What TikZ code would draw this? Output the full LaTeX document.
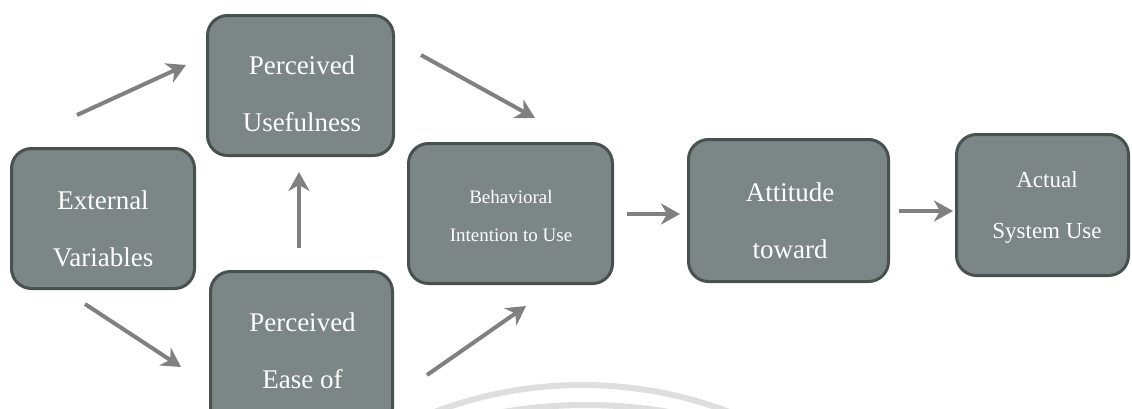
\documentclass[tikz,border=0pt]{standalone}
\usepackage{fontspec}
\setmainfont{Liberation Serif}
\usetikzlibrary{arrows.meta}
\definecolor{boxfill}{RGB}{124,134,134}
\definecolor{boxline}{RGB}{72,80,80}
\definecolor{arrowc}{RGB}{128,128,128}
\definecolor{wm}{RGB}{222,222,222}
\tikzset{
  boxst/.style={draw=boxline, fill=boxfill, line width=3pt, rounded corners=20pt, inner sep=0pt},
  txt/.style={text=white, align=center, inner sep=0pt},
  big/.style={font=\fontsize{27pt}{57pt}\selectfont},
  arr/.style={draw=arrowc, line width=4pt, -{Stealth[length=19pt,width=21pt,inset=6pt]}},
}
\begin{document}
\begin{tikzpicture}[x=1pt,y=-1pt]
\clip (0,0) rectangle (1132,408);
\fill[white] (0,0) rectangle (1132,408);
% faint watermark arcs
\draw[wm, line width=6pt] (582,799) circle (414pt);
\draw[wm, line width=6pt] (586,799) ellipse (440pt and 394pt);
% boxes
\node[boxst, minimum width=183pt, minimum height=140pt] (ext) at (103,218.5) {};
\node[boxst, minimum width=186pt, minimum height=140pt] (pu) at (300.5,85.5) {};
\node[boxst, minimum width=182pt, minimum height=157pt] (ease) at (301.5,350) {};
\node[boxst, minimum width=204pt, minimum height=140pt] (bi) at (510.5,213.5) {};
\node[boxst, minimum width=200pt, minimum height=142pt] (att) at (788.5,210.5) {};
\node[boxst, minimum width=172pt, minimum height=141pt] (act) at (1042.5,205) {};
% texts
\node[txt, big] (ext-t) at (103,228.5) {External\\Variables};
\node[txt, big] (pu-t) at (302,94) {Perceived\\Usefulness};
\node[txt, big] (ease-t) at (302.5,351) {Perceived\\Ease of};
\node[txt, font=\fontsize{19pt}{38pt}\selectfont] (bi-t) at (511,216) {Behavioral\\Intention to Use};
\node[txt, big] (att-t) at (790,221) {Attitude\\toward};
\node[txt, font=\fontsize{23pt}{51pt}\selectfont] (act-t) at (1047,207.5) {Actual\\System Use};
% arrow end points
\coordinate (a1s) at (77,115);   \coordinate (a1e) at (186,65);
\coordinate (a2s) at (85,304);   \coordinate (a2e) at (181,367);
\coordinate (a3s) at (299,248);  \coordinate (a3e) at (299,172);
\coordinate (a4s) at (421,55);   \coordinate (a4e) at (535,118);
\coordinate (a5s) at (427,375);  \coordinate (a5e) at (526,306);
\coordinate (a6s) at (627,214);  \coordinate (a6e) at (680,214);
\coordinate (a7s) at (899,211);  \coordinate (a7e) at (953,211);
% arrows
\draw[arr] (a1s) -- (a1e);
\draw[arr] (a2s) -- (a2e);
\draw[arr] (a3s) -- (a3e);
\draw[arr] (a4s) -- (a4e);
\draw[arr] (a5s) -- (a5e);
\draw[arr] (a6s) -- (a6e);
\draw[arr] (a7s) -- (a7e);
\end{tikzpicture}
\end{document}
